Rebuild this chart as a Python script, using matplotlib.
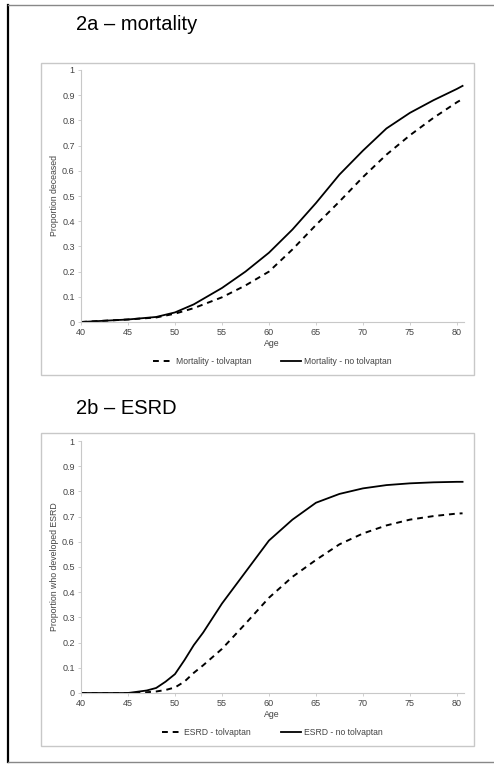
import matplotlib
matplotlib.use("Agg")
import matplotlib.pyplot as plt
from matplotlib.patches import Rectangle
from matplotlib.lines import Line2D

plt.rcParams["font.family"] = ["Liberation Sans", "DejaVu Sans"]

# --- data ---
age_mort = [40, 45, 48, 50, 52, 55, 57.5, 60, 62.5, 65, 67.5, 70, 72.5, 75, 77.5, 80, 80.6]
mort_tolvaptan = [0.0, 0.01, 0.018, 0.033, 0.055, 0.098, 0.145, 0.2, 0.288, 0.385, 0.478,
                  0.575, 0.664, 0.741, 0.81, 0.872, 0.885]
mort_no_tolvaptan = [0.0, 0.01, 0.02, 0.038, 0.07, 0.135, 0.2, 0.275, 0.367, 0.472, 0.585,
                     0.68, 0.768, 0.83, 0.88, 0.925, 0.937]

age_esrd = [40, 45, 46, 47, 48, 49, 50, 51, 52, 53, 55, 57.5, 60, 62.5, 65, 67.5, 70, 72.5,
            75, 77.5, 80, 80.6]
esrd_tolvaptan = [0.0, 0.0, 0.0, 0.003, 0.006, 0.012, 0.022, 0.045, 0.08, 0.11, 0.175, 0.275,
                  0.378, 0.461, 0.528, 0.59, 0.633, 0.665, 0.688, 0.702, 0.712, 0.713]
esrd_no_tolvaptan = [0.0, 0.0, 0.005, 0.01, 0.02, 0.045, 0.075, 0.13, 0.19, 0.24, 0.355, 0.48,
                     0.605, 0.688, 0.755, 0.79, 0.812, 0.825, 0.832, 0.836, 0.838, 0.838]

x_ticks = [40, 45, 50, 55, 60, 65, 70, 75, 80]
y_ticks = [0, 0.1, 0.2, 0.3, 0.4, 0.5, 0.6, 0.7, 0.8, 0.9, 1]
y_tick_labels = ["0", "0.1", "0.2", "0.3", "0.4", "0.5", "0.6", "0.7", "0.8", "0.9", "1"]

W, H = 494, 764
fig = plt.figure(figsize=(W / 100, H / 100), dpi=100)


def px(x0, y0, x1, y1):
    # pixel box (top-left origin) -> figure fraction rect
    return [x0 / W, 1 - y1 / H, (x1 - x0) / W, (y1 - y0) / H]


# outer frame
fig.add_artist(Line2D([8 / W, 8 / W], [1 - 5 / H, 1 - 762 / H], color="black", lw=1.6))
fig.add_artist(Line2D([8 / W, 1], [1 - 5 / H, 1 - 5 / H], color="#888888", lw=1.0))
fig.add_artist(Line2D([8 / W, 1], [1 - 762 / H, 1 - 762 / H], color="#888888", lw=1.0))


def panel(box_top, box_bot, ax_top, ax_bot, title, title_y, x, y_dash, y_solid,
          ylabel, lab_dash, lab_solid):
    b = px(41, box_top, 474, box_bot)
    fig.add_artist(Rectangle((b[0], b[1]), b[2], b[3], transform=fig.transFigure,
                             fill=False, edgecolor="#c8c8c8", lw=1.0))
    fig.text(76 / W, 1 - title_y / H, title, fontsize=14.5, va="center", ha="left")

    ax = fig.add_axes(px(81, ax_top, 463.5, ax_bot))
    ax.plot(x, y_dash, color="black", lw=1.4, ls=(0, (3, 2.5)), label=lab_dash)
    ax.plot(x, y_solid, color="black", lw=1.3, label=lab_solid)
    ax.set_xlim(40, 80.7)
    ax.set_ylim(0, 1)
    ax.set_xticks(x_ticks)
    ax.set_yticks(y_ticks)
    ax.set_yticklabels(y_tick_labels)
    for s in ["top", "right"]:
        ax.spines[s].set_visible(False)
    for s in ["left", "bottom"]:
        ax.spines[s].set_color("#c8c8c8")
        ax.spines[s].set_linewidth(0.8)
    ax.tick_params(labelsize=6.5, labelcolor="#444444", color="#c8c8c8", length=2,
                   width=0.6, pad=2.5)
    ax.set_xlabel("Age", fontsize=6.3, color="#444444", labelpad=1.5)
    ax.set_ylabel(ylabel, fontsize=6.3, color="#444444", labelpad=2)
    ax.legend(loc="upper center", bbox_to_anchor=(0.5, -0.11), ncol=2, frameon=False,
              fontsize=6.2, labelcolor="#444444", handlelength=2.3, columnspacing=3.5,
              handletextpad=0.3)
    return ax


panel(63, 375, 70, 322, "2a \u2013 mortality", 25, age_mort, mort_tolvaptan,
      mort_no_tolvaptan, "Proportion deceased",
      "Mortality - tolvaptan", "Mortality - no tolvaptan")
panel(433, 746, 441, 693, "2b \u2013 ESRD", 408, age_esrd, esrd_tolvaptan,
      esrd_no_tolvaptan, "Proportion who developed ESRD",
      "ESRD - tolvaptan", "ESRD - no tolvaptan")

fig.savefig("out.png", dpi=100)
